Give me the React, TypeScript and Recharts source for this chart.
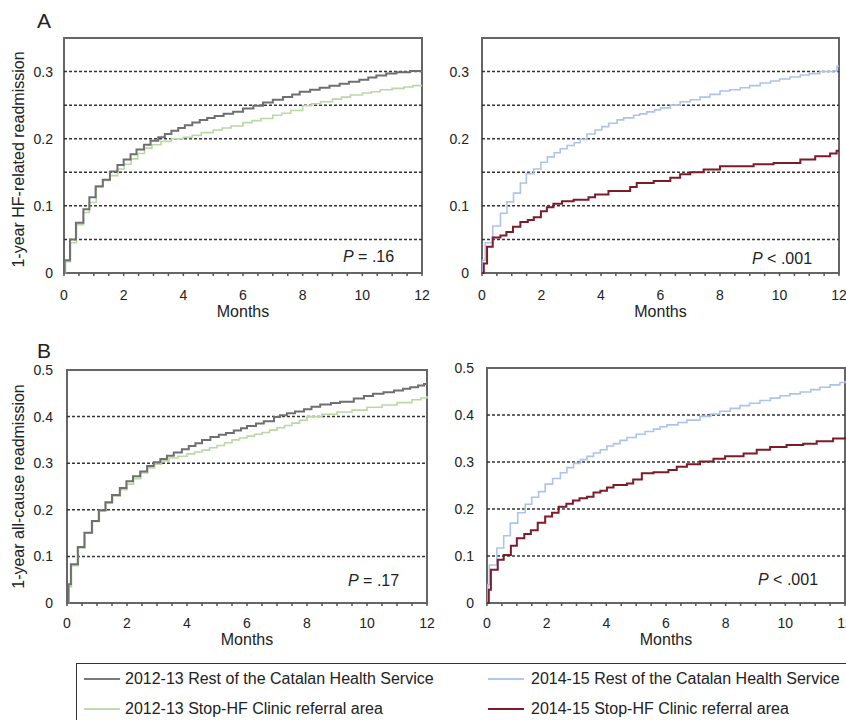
import { LineChart, Line, XAxis, YAxis, ReferenceLine, ReferenceArea } from 'recharts';

// [month, cumulative incidence] step points
const hf1213Rest = [
  [0, 0], [0.02, 0.019], [0.2, 0.05], [0.4, 0.075], [0.65, 0.095], [0.85, 0.113], [1.06, 0.129], [1.3, 0.139],
  [1.54, 0.151], [1.79, 0.161], [2.0, 0.169], [2.23, 0.177], [2.43, 0.184], [2.68, 0.191], [2.9, 0.197],
  [3.16, 0.202], [3.38, 0.207], [3.6, 0.212], [3.83, 0.216], [4.05, 0.22], [4.3, 0.224], [4.55, 0.228],
  [4.8, 0.231], [5.05, 0.234], [5.35, 0.237], [5.67, 0.24], [6.0, 0.245], [6.35, 0.249], [6.67, 0.254],
  [7.0, 0.258], [7.34, 0.262], [7.65, 0.266], [7.9, 0.27], [8.25, 0.273], [8.57, 0.276], [8.9, 0.279],
  [9.24, 0.282], [9.55, 0.285], [9.9, 0.288], [10.2, 0.291], [10.47, 0.294], [10.8, 0.297], [11.14, 0.299],
  [11.6, 0.301], [12, 0.302],
];
const hf1213Stop = [
  [0, 0], [0.05, 0.017], [0.22, 0.045], [0.42, 0.072], [0.65, 0.09], [0.85, 0.105], [1.08, 0.13], [1.3, 0.138],
  [1.55, 0.145], [1.8, 0.155], [2.02, 0.162], [2.25, 0.17], [2.47, 0.178], [2.7, 0.186], [2.95, 0.191],
  [3.25, 0.196], [3.6, 0.2], [4.0, 0.202], [4.3, 0.205], [4.6, 0.209], [5.0, 0.213], [5.3, 0.216], [5.6, 0.219],
  [6.0, 0.224], [6.3, 0.227], [6.6, 0.23], [7.0, 0.235], [7.3, 0.238], [7.6, 0.242], [8.0, 0.249], [8.3, 0.252],
  [8.6, 0.255], [9.0, 0.259], [9.3, 0.262], [9.6, 0.265], [10.0, 0.268], [10.3, 0.27], [10.6, 0.273],
  [11.0, 0.275], [11.4, 0.277], [11.7, 0.279], [12, 0.279],
];
const hf1415Rest = [
  [0, 0], [0.02, 0.019], [0.11, 0.045], [0.36, 0.07], [0.62, 0.089], [0.84, 0.106], [1.06, 0.119], [1.29, 0.134],
  [1.49, 0.148], [1.74, 0.155], [1.98, 0.165], [2.2, 0.173], [2.43, 0.179], [2.63, 0.185], [2.86, 0.19],
  [3.1, 0.194], [3.3, 0.199], [3.53, 0.207], [3.8, 0.213], [4.03, 0.218], [4.26, 0.223], [4.54, 0.228],
  [4.76, 0.231], [5.1, 0.235], [5.3, 0.237], [5.54, 0.24], [5.8, 0.243], [6.0, 0.246], [6.33, 0.25],
  [6.66, 0.255], [7.0, 0.258], [7.33, 0.262], [7.66, 0.266], [8.0, 0.271], [8.33, 0.273], [8.68, 0.276],
  [9.0, 0.279], [9.35, 0.283], [9.7, 0.286], [10.0, 0.289], [10.35, 0.292], [10.7, 0.295], [11.0, 0.297],
  [11.36, 0.3], [11.8, 0.301], [11.93, 0.308], [12, 0.308],
];
const hf1415Stop = [
  [0, 0], [0.06, 0.014], [0.17, 0.039], [0.36, 0.053], [0.62, 0.056], [0.82, 0.061], [1.04, 0.069], [1.29, 0.076],
  [1.54, 0.079], [1.74, 0.083], [1.98, 0.092], [2.18, 0.098], [2.4, 0.103], [2.69, 0.107], [3.08, 0.109],
  [3.58, 0.113], [3.8, 0.117], [4.25, 0.122], [4.98, 0.128], [5.2, 0.134], [5.77, 0.137], [6.33, 0.142],
  [6.66, 0.147], [7.0, 0.15], [7.45, 0.154], [8.0, 0.159], [9.13, 0.162], [9.8, 0.164], [10.7, 0.169],
  [11.2, 0.174], [11.7, 0.178], [11.92, 0.182], [12, 0.182],
];
const all1213Rest = [
  [0, 0], [0.05, 0.04], [0.13, 0.083], [0.36, 0.12], [0.58, 0.151], [0.83, 0.176], [1.06, 0.199], [1.28, 0.216],
  [1.5, 0.232], [1.76, 0.247], [1.98, 0.261], [2.2, 0.272], [2.44, 0.282], [2.67, 0.294], [2.89, 0.302],
  [3.11, 0.309], [3.33, 0.316], [3.56, 0.323], [3.83, 0.33], [4.06, 0.337], [4.28, 0.343], [4.5, 0.35],
  [4.78, 0.356], [5.06, 0.361], [5.3, 0.365], [5.56, 0.37], [5.8, 0.375], [6.0, 0.38], [6.3, 0.385],
  [6.56, 0.39], [6.9, 0.399], [7.1, 0.403], [7.33, 0.407], [7.6, 0.411], [7.9, 0.416], [8.15, 0.421],
  [8.44, 0.426], [8.8, 0.429], [9.1, 0.432], [9.56, 0.439], [9.9, 0.444], [10.2, 0.449], [10.55, 0.452],
  [10.9, 0.456], [11.2, 0.46], [11.44, 0.463], [11.7, 0.467], [11.9, 0.47], [12, 0.474],
];
const all1213Stop = [
  [0, 0], [0.06, 0.035], [0.15, 0.08], [0.38, 0.118], [0.6, 0.15], [0.85, 0.175], [1.08, 0.197], [1.3, 0.214],
  [1.52, 0.229], [1.78, 0.243], [2.0, 0.255], [2.22, 0.267], [2.46, 0.279], [2.69, 0.29], [2.92, 0.298],
  [3.15, 0.305], [3.4, 0.311], [3.7, 0.315], [4.0, 0.32], [4.25, 0.324], [4.5, 0.328], [4.75, 0.333],
  [5.0, 0.338], [5.25, 0.344], [5.5, 0.35], [5.75, 0.354], [6.0, 0.358], [6.25, 0.362], [6.5, 0.366],
  [6.75, 0.371], [7.0, 0.376], [7.25, 0.381], [7.5, 0.386], [7.75, 0.392], [8.0, 0.4], [8.5, 0.405],
  [9.0, 0.41], [9.5, 0.414], [10.0, 0.42], [10.5, 0.425], [11.0, 0.43], [11.5, 0.436], [11.8, 0.44], [12, 0.444],
];
const all1415Rest = [
  [0, 0], [0.03, 0.039], [0.08, 0.081], [0.33, 0.117], [0.56, 0.143], [0.78, 0.17], [1.03, 0.192], [1.28, 0.21],
  [1.5, 0.225], [1.73, 0.237], [1.95, 0.253], [2.2, 0.265], [2.46, 0.277], [2.68, 0.288], [2.9, 0.297],
  [3.13, 0.305], [3.35, 0.312], [3.57, 0.319], [3.8, 0.326], [4.02, 0.334], [4.24, 0.339], [4.46, 0.346],
  [4.69, 0.352], [5.0, 0.359], [5.3, 0.365], [5.58, 0.37], [5.8, 0.375], [6.03, 0.379], [6.4, 0.384],
  [6.7, 0.389], [7.14, 0.397], [7.5, 0.402], [7.8, 0.408], [8.15, 0.414], [8.48, 0.42], [8.8, 0.425],
  [9.15, 0.431], [9.5, 0.436], [9.82, 0.441], [10.15, 0.445], [10.5, 0.449], [10.85, 0.454], [11.16, 0.459],
  [11.5, 0.464], [11.83, 0.469], [12, 0.473],
];
const all1415Stop = [
  [0, 0], [0.06, 0.028], [0.13, 0.071], [0.36, 0.092], [0.56, 0.102], [0.8, 0.122], [1.0, 0.138], [1.25, 0.147],
  [1.47, 0.155], [1.7, 0.171], [1.95, 0.184], [2.18, 0.192], [2.4, 0.205], [2.66, 0.211], [2.88, 0.218],
  [3.1, 0.223], [3.35, 0.226], [3.57, 0.235], [3.8, 0.239], [4.02, 0.246], [4.24, 0.251], [4.69, 0.254],
  [4.9, 0.263], [5.19, 0.276], [5.58, 0.278], [6.08, 0.283], [6.36, 0.29], [6.7, 0.295], [7.14, 0.301],
  [7.59, 0.307], [7.98, 0.312], [8.6, 0.318], [9.04, 0.326], [9.49, 0.332], [10.04, 0.336], [10.6, 0.339],
  [11.05, 0.344], [11.6, 0.35], [12, 0.353],
];

const monthTicks = [0, 0.5, 1, 1.5, 2, 2.5, 3, 3.5, 4, 4.5, 5, 5.5, 6, 6.5, 7, 7.5, 8, 8.5, 9, 9.5, 10, 10.5, 11, 11.5, 12];
const hfTicks = [0, 0.1, 0.2, 0.3];
const hfGrid = [0.05, 0.1, 0.15, 0.2, 0.25, 0.3];
const allTicks = [0, 0.1, 0.2, 0.3, 0.4, 0.5];
const allGrid = [0.1, 0.2, 0.3, 0.4];

const legendItems = [
  { name: '2012-13 Rest of the Catalan Health Service', color: '#7a7a7a' },
  { name: '2014-15 Rest of the Catalan Health Service', color: '#b3c8ee' },
  { name: '2012-13 Stop-HF Clinic referral area', color: '#bedaae' },
  { name: '2014-15 Stop-HF Clinic referral area', color: '#7d1b28' },
];

const FONT = '"Liberation Sans", Arial, Helvetica, sans-serif';
const GRAY = '#6f6f6f';
const GREEN = '#b9d8a6';
const BLUE = '#adc3ec';
const RED = '#7d1b28';

const toRows = (pts: number[][]) => pts.map(([m, v]) => ({ m, v }));

function YTitle({ viewBox, text, titleX, titleDy }: any) {
  if (!viewBox) return null;
  const cy = viewBox.y + viewBox.height / 2 + (titleDy || 0);
  return (
    <text x={titleX} y={cy} transform={`rotate(-90, ${titleX}, ${cy})`} textAnchor="middle" dominantBaseline="central"
      fontSize={16} fill="#222" fontFamily={FONT}>
      {text}
    </text>
  );
}

function XTitle({ viewBox, titleDy }: any) {
  if (!viewBox) return null;
  return (
    <text x={viewBox.x + viewBox.width / 2} y={viewBox.y + titleDy} textAnchor="middle" fontSize={16} fill="#222" fontFamily={FONT}>
      Months
    </text>
  );
}

interface PanelProps {
  left: number;
  top: number;
  width: number;
  margin: { top: number; right: number; bottom: number; left: number };
  yMax: number;
  yTicks: number[];
  grid: number[];
  yTickMargin: number;
  xTickMargin: number;
  xTitleDy: number;
  yTitle?: string;
  yTitleX?: number;
  yTitleDy?: number;
  series: { data: number[][]; color: string; width: number }[];
}

function Panel(p: PanelProps) {
  return (
    <div style={{ position: 'absolute', left: p.left, top: p.top }}>
      <LineChart width={p.width} height={325} margin={p.margin}>
        <XAxis
          dataKey="m"
          type="number"
          domain={[0, 12]}
          ticks={monthTicks}
          interval={0}
          allowDuplicatedCategory={false}
          tickFormatter={(v: number) => (v % 2 === 0 ? String(v) : '')}
          tick={{ fontSize: 14, fill: '#222', fontFamily: FONT }}
          tickSize={3}
          tickMargin={p.xTickMargin}
          tickLine={{ stroke: '#555', strokeWidth: 1.5 }}
          axisLine={false}
          height={40}
          label={<XTitle titleDy={p.xTitleDy} />}
        />
        <YAxis
          type="number"
          domain={[0, p.yMax]}
          ticks={p.yTicks}
          interval={0}
          tick={{ fontSize: 14, fill: '#222', fontFamily: FONT }}
          tickFormatter={(v: number) => String(v)}
          tickLine={false}
          tickSize={0}
          tickMargin={p.yTickMargin}
          axisLine={false}
          width={50}
          label={p.yTitle ? <YTitle text={p.yTitle} titleX={p.yTitleX} titleDy={p.yTitleDy} /> : undefined}
        />
        {p.grid.map((g) => (
          <ReferenceLine key={g} y={g} stroke="#333" strokeDasharray="3 2" strokeWidth={1.5} />
        ))}
        {p.series.map((s, i) => (
          <Line
            key={i}
            data={toRows(s.data)}
            dataKey="v"
            type="stepAfter"
            stroke={s.color}
            strokeWidth={s.width}
            dot={false}
            activeDot={false}
            isAnimationActive={false}
          />
        ))}
        <ReferenceArea x1={0} x2={12} y1={0} y2={p.yMax} fill="none" stroke="#666" strokeWidth={2} ifOverflow="visible" />
      </LineChart>
    </div>
  );
}

export default function App() {
  return (
    <div style={{ position: 'absolute', left: 0, top: 0, width: 846, height: 720, overflow: 'hidden', background: '#fff', fontFamily: FONT }}>
      <Panel
        left={0}
        top={0}
        width={445}
        margin={{ top: 38, right: 23, bottom: 12, left: 14 }}
        yMax={0.35}
        yTicks={hfTicks}
        grid={hfGrid}
        yTickMargin={11}
        xTickMargin={14}
        xTitleDy={44}
        yTitle="1-year HF-related readmission"
        yTitleX={18}
        yTitleDy={4}
        series={[
          { data: hf1213Stop, color: GREEN, width: 1.6 },
          { data: hf1213Rest, color: GRAY, width: 2 },
        ]}
      />
      <Panel
        left={420}
        top={0}
        width={426}
        margin={{ top: 38, right: 7, bottom: 12, left: 12 }}
        yMax={0.35}
        yTicks={hfTicks}
        grid={hfGrid}
        yTickMargin={13}
        xTickMargin={14}
        xTitleDy={44}
        series={[
          { data: hf1415Rest, color: BLUE, width: 1.6 },
          { data: hf1415Stop, color: RED, width: 2 },
        ]}
      />
      <Panel
        left={0}
        top={330}
        width={445}
        margin={{ top: 40, right: 18, bottom: 12, left: 17 }}
        yMax={0.5}
        yTicks={allTicks}
        grid={allGrid}
        yTickMargin={14}
        xTickMargin={12}
        xTitleDy={42}
        yTitle="1-year all-cause readmission"
        yTitleX={18}
        yTitleDy={0}
        series={[
          { data: all1213Stop, color: GREEN, width: 1.6 },
          { data: all1213Rest, color: GRAY, width: 2 },
        ]}
      />
      <Panel
        left={420}
        top={330}
        width={426}
        margin={{ top: 38, right: 1, bottom: 12, left: 17 }}
        yMax={0.5}
        yTicks={allTicks}
        grid={allGrid}
        yTickMargin={13}
        xTickMargin={12}
        xTitleDy={42}
        series={[
          { data: all1415Rest, color: BLUE, width: 1.6 },
          { data: all1415Stop, color: RED, width: 2 },
        ]}
      />

      <svg width={846} height={720} style={{ position: 'absolute', left: 0, top: 0, pointerEvents: 'none' }} fontFamily={FONT}>
        <text x={37} y={28} fontSize={21} fill="#222">A</text>
        <text x={37} y={358} fontSize={21} fill="#222">B</text>
        <text x={343} y={262} fontSize={16} fill="#222"><tspan fontStyle="italic">P</tspan> = .16</text>
        <text x={752} y={264} fontSize={16} fill="#222"><tspan fontStyle="italic">P</tspan> &lt; .001</text>
        <text x={348} y={586} fontSize={16} fill="#222"><tspan fontStyle="italic">P</tspan> = .17</text>
        <text x={758} y={585} fontSize={16} fill="#222"><tspan fontStyle="italic">P</tspan> &lt; .001</text>
      </svg>

      <div style={{ position: 'absolute', left: 76, top: 663, width: 800, height: 80, border: '1px solid #333', boxSizing: 'border-box' }}>
        {legendItems.map((item, i) => {
          const col = i % 2;
          const row = Math.floor(i / 2);
          return (
            <div key={item.name} style={{ position: 'absolute', left: col === 0 ? 7 : 411, top: row === 0 ? 4 : 34, height: 22, display: 'flex', alignItems: 'center', whiteSpace: 'nowrap' }}>
              <span style={{ display: 'inline-block', width: 36, height: 2, background: item.color, marginRight: col === 0 ? 5 : 7 }} />
              <span style={{ fontSize: 16, color: '#222' }}>{item.name}</span>
            </div>
          );
        })}
      </div>
    </div>
  );
}
